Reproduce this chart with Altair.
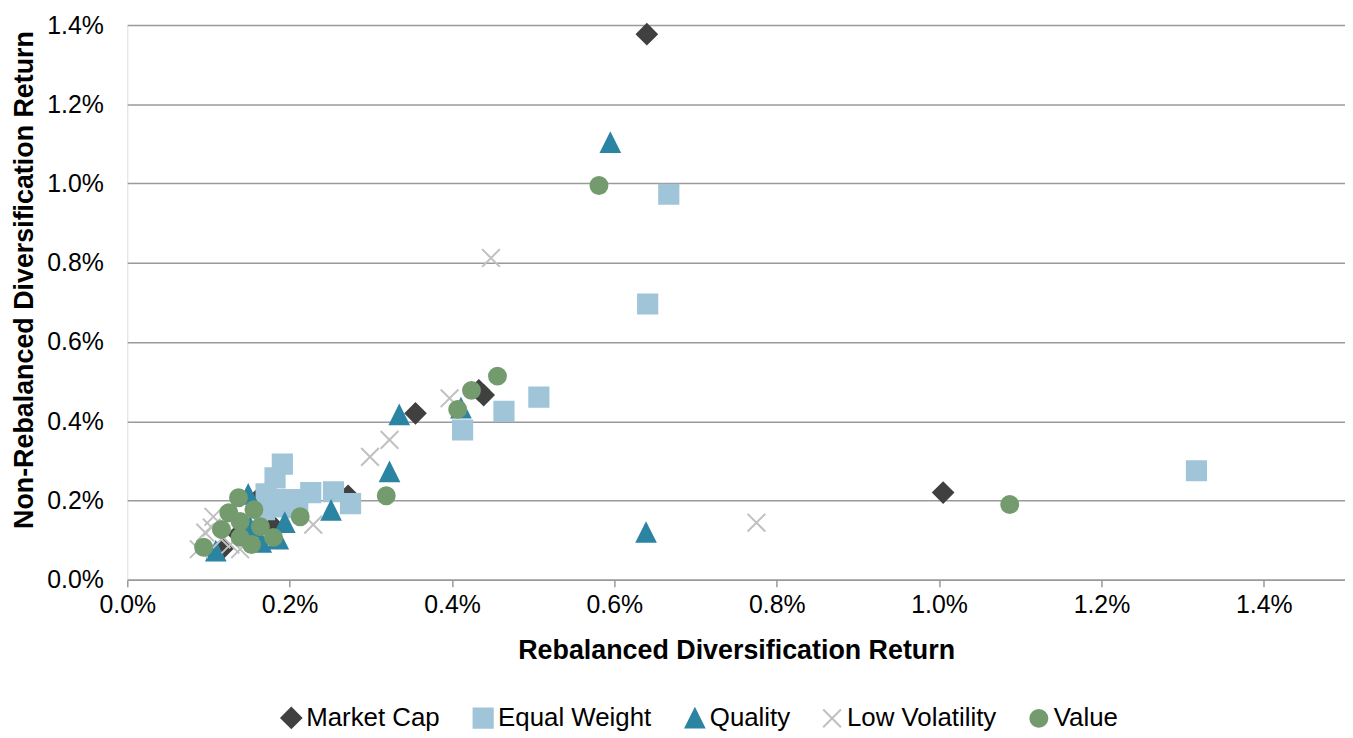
import altair as alt
import pandas as pd

series_names = ["Market Cap", "Equal Weight", "Quality", "Low Volatility", "Value"]
series_colors = ["#404040", "#A0C4D8", "#2C84A3", "#C0C0C0", "#739B6E"]
series_shapes = ["diamond", "square", "M0,-1L1,1L-1,1Z", "M-1,-1L1,1M-1,1L1,-1", "circle"]
series_sizes = [400, 290, 420, 340, 320]

# values in percent
mc_x = [0.640, 0.433, 0.439, 0.355, 1.005, 0.272, 0.159, 0.180, 0.137, 0.118]
mc_y = [1.377, 0.478, 0.466, 0.420, 0.220, 0.212, 0.200, 0.135, 0.115, 0.080]

ew_x = [1.317, 0.667, 0.641, 0.507, 0.464, 0.413, 0.191, 0.182, 0.171, 0.188, 0.207, 0.226, 0.254, 0.275, 0.188, 0.169, 0.210]
ew_y = [0.275, 0.973, 0.696, 0.461, 0.425, 0.378, 0.292, 0.257, 0.217, 0.202, 0.202, 0.220, 0.222, 0.192, 0.184, 0.177, 0.182]

q_x = [0.595, 0.411, 0.335, 0.323, 0.251, 0.194, 0.186, 0.165, 0.149, 0.151, 0.109, 0.639]
q_y = [1.103, 0.433, 0.416, 0.272, 0.175, 0.144, 0.102, 0.094, 0.215, 0.134, 0.072, 0.119]

lv_x = [0.448, 0.775, 0.397, 0.323, 0.299, 0.229, 0.106, 0.096, 0.088, 0.116, 0.139, 0.127, 0.104]
lv_y = [0.812, 0.144, 0.458, 0.353, 0.310, 0.139, 0.159, 0.119, 0.077, 0.102, 0.077, 0.089, 0.132]

v_x = [0.581, 1.087, 0.456, 0.424, 0.407, 0.319, 0.213, 0.137, 0.156, 0.125, 0.139, 0.116, 0.164, 0.180, 0.139, 0.153, 0.094]
v_y = [0.995, 0.190, 0.514, 0.478, 0.430, 0.212, 0.159, 0.207, 0.177, 0.169, 0.147, 0.127, 0.134, 0.107, 0.107, 0.089, 0.082]

tick_values = [0.0, 0.002, 0.004, 0.006, 0.008, 0.010, 0.012, 0.014]

rows = []
for name, xs, ys in [("Market Cap", mc_x, mc_y), ("Equal Weight", ew_x, ew_y),
                     ("Quality", q_x, q_y), ("Low Volatility", lv_x, lv_y), ("Value", v_x, v_y)]:
    for a, b in zip(xs, ys):
        rows.append({"Series": name, "x": a / 100.0, "y": b / 100.0})
df = pd.DataFrame(rows)
df["order"] = df["Series"].map({n: i for i, n in enumerate(series_names)})

color_scale = alt.Scale(domain=series_names, range=series_colors)
grid_gray = "#9A9A9A"


def leg():
    return alt.Legend(title=None, orient="none", legendX=152, legendY=684, direction="horizontal")


chart = alt.Chart(df).mark_point(strokeWidth=2, opacity=1, filled=True).encode(
    x=alt.X("x:Q", scale=alt.Scale(domain=[0, 0.015], nice=False),
            axis=alt.Axis(title="Rebalanced Diversification Return", values=tick_values, format=".1%",
                          grid=False, domain=True, domainColor=grid_gray, domainWidth=1.5,
                          ticks=True, tickColor=grid_gray, tickSize=7, tickWidth=1.5,
                          labelFontSize=25, labelPadding=6, labelColor="#000000", labelFlush=False,
                          titleFontSize=27, titleFontWeight="bold", titleColor="#000000",
                          titleY=79, titleBaseline="alphabetic")),
    y=alt.Y("y:Q", scale=alt.Scale(domain=[0, 0.014], nice=False),
            axis=alt.Axis(title="Non-Rebalanced Diversification Return", values=tick_values, format=".1%",
                          grid=True, gridColor=grid_gray, gridWidth=1.5,
                          domain=False, ticks=False, labelPadding=24,
                          labelFontSize=25, labelColor="#000000", labelFlush=False,
                          titleFontSize=27, titleFontWeight="bold", titleColor="#000000",
                          titleX=-95, titleY=256, titleAngle=270, titleBaseline="alphabetic",
                          titleAlign="center")),
    color=alt.Color("Series:N", scale=color_scale, legend=leg()),
    stroke=alt.Stroke("Series:N", scale=color_scale, legend=leg()),
    shape=alt.Shape("Series:N", scale=alt.Scale(domain=series_names, range=series_shapes), legend=leg()),
    size=alt.Size("Series:N", scale=alt.Scale(domain=series_names, range=series_sizes), legend=None),
    order=alt.Order("order:Q"),
).properties(
    width=1225, height=558,
    autosize=alt.AutoSizeParams(type="none"),
    padding={"left": 120, "top": 15, "right": 0, "bottom": 150},
).configure_view(stroke=None).configure(font="Liberation Sans").configure_legend(
    labelFontSize=26, labelFont="Liberation Sans", labelColor="#000000",
    symbolSize=250, symbolStrokeWidth=2, labelOffset=2, columnPadding=29, padding=0,
)

chart.save("out.html", embed_options={"renderer": "svg", "actions": False})
